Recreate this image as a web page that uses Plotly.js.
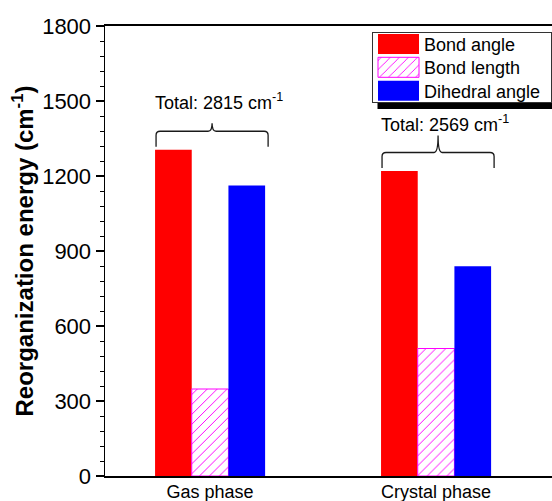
<!DOCTYPE html>
<html><head><meta charset="utf-8">
<script src="https://cdn.plot.ly/plotly-3.0.1.min.js"></script>
<style>html,body{margin:0;padding:0;background:#fff}#chart{width:552px;height:501px}</style>
</head><body><div id="chart"></div>
<script>
// ---- data ----
const categories = ['Gas phase', 'Crystal phase'];
const seriesNames = ['Bond angle', 'Bond length', 'Dihedral angle'];
const bondAngle = [1305, 1220];
const bondLength = [348, 510];
const dihedralAngle = [1162, 839];
const totals = [2815, 2569];
const yTickValues = [0, 300, 600, 900, 1200, 1500, 1800];

// ---- layout helpers ----
const FONT = 'Arial, "Liberation Sans", sans-serif';
const xIdx = categories.map((c, i) => i);
const M = {l: 105, r: 0, t: 26, b: 25};
const W = 552, H = 501;
const plotW = W - M.l - M.r, plotH = H - M.t - M.b;
const xRange = [-0.465, 1.513];
const yRange = [0, 1800];
const pxX = (xRange[1] - xRange[0]) / plotW;
const pxY = (yRange[1] - yRange[0]) / plotH;
const bargap = 0.513;
const groupW = 1 - bargap;
const braceCusp = [8, 17];
const MAG = '#FF00FF';

const traces = [
  {type: 'bar', name: seriesNames[0], x: xIdx, y: bondAngle,
   marker: {color: '#FF0000', line: {width: 0}}},
  {type: 'bar', name: seriesNames[1], x: xIdx, y: bondLength,
   marker: {color: '#FFFFFF', line: {color: MAG, width: 1},
            pattern: {shape: '/', fillmode: 'overlay', fgcolor: MAG, bgcolor: '#FFFFFF', fgopacity: 1,
                      size: xIdx.map(() => 7), solidity: 0.14}}},
  {type: 'bar', name: seriesNames[2], x: xIdx, y: dihedralAngle,
   marker: {color: '#0000FF', line: {width: 0}}}
];

const shapes = [];
const annotations = [];
xIdx.forEach(i => {
  const top = Math.max(bondAngle[i], bondLength[i], dihedralAngle[i]);
  const x0 = i - groupW / 2 + 1 * pxX, x1 = i + groupW / 2 + 3 * pxX, xc = (x0 + x1) / 2;
  const yH = top + 18.5 * pxY, yE = top + 3 * pxY, yC = yH + braceCusp[i] * pxY;
  const rx = 4 * pxX, ry = 4 * pxY;
  const path = `M${x0},${yE} L${x0},${yH - ry} Q${x0},${yH} ${x0 + rx},${yH} L${xc - rx},${yH} ` +
    `Q${xc},${yH} ${xc},${yC} Q${xc},${yH} ${xc + rx},${yH} L${x1 - rx},${yH} ` +
    `Q${x1},${yH} ${x1},${yH - ry} L${x1},${yE}`;
  shapes.push({type: 'path', xref: 'x', yref: 'y', path: path, line: {color: '#1a1a1a', width: 1.3}, layer: 'above'});
  annotations.push({xref: 'x', yref: 'y', x: x0 - 3 * pxX, y: top + 48 * pxY, xanchor: 'left', yanchor: 'middle',
    text: 'Total: ' + totals[i] + ' cm<sup>-1</sup>', showarrow: false, font: {family: FONT, size: 18, color: '#000'}});
});

const layout = {
  width: W, height: H, margin: M, paper_bgcolor: '#fff', plot_bgcolor: '#fff',
  font: {family: FONT, color: '#000'},
  barmode: 'group', bargap: bargap, bargroupgap: 0,
  showlegend: true,
  legend: {x: (372 - M.l) / plotW, y: (H - M.b - 32) / plotH, xanchor: 'left', yanchor: 'top',
    bgcolor: '#fff', bordercolor: '#333', borderwidth: 1, font: {family: FONT, size: 18, color: '#000'},
    itemwidth: 41, tracegroupgap: 0, traceorder: 'normal'},
  xaxis: {type: 'linear', range: xRange, tickvals: xIdx, ticktext: categories, ticks: '',
    showline: true, linewidth: 2, linecolor: '#000', mirror: true, showgrid: false, zeroline: false,
    tickfont: {family: FONT, size: 18, color: '#000'}, ticklabelstandoff: -2, fixedrange: true},
  yaxis: {range: yRange, tickvals: yTickValues, ticktext: yTickValues.map(String), ticks: 'outside',
    ticklen: 8, tickwidth: 1.5, tickcolor: '#000', showline: true, linewidth: 1.5, linecolor: '#000',
    showgrid: false, zeroline: false, tickfont: {family: FONT, size: 22, color: '#000'},
    minor: {tick0: 0, dtick: 60, ticks: 'outside', ticklen: 4, tickwidth: 1, tickcolor: '#000', showgrid: false},
    title: {text: 'Reorganization energy (cm<sup>-1</sup>)', font: {family: FONT, size: 24, color: '#000', weight: 'bold'}, standoff: 1},
    automargin: false, fixedrange: true},
  shapes: shapes, annotations: annotations
};

const SVGNS = 'http://www.w3.org/2000/svg';
const LEG_W = 179, LEG_H = 70;

function fixPatterns() {
  document.querySelectorAll('pattern').forEach(p => {
    p.querySelectorAll('path').forEach(q => { q.setAttribute('stroke', MAG); q.style.stroke = MAG; });
    p.querySelectorAll('rect').forEach(r => { r.setAttribute('fill', '#FFFFFF'); r.style.fill = '#FFFFFF'; });
  });
}

function fixRows(leg) {
  const rowCenters = [12, 35.3, 58.7];
  leg.querySelectorAll('g.traces').forEach((g, k) => {
    const m = /translate\(\s*([-\d.]+)[ ,]+([-\d.]+)/.exec(g.getAttribute('transform') || '');
    const tx = m ? parseFloat(m[1]) : 0;
    g.setAttribute('transform', `translate(${tx},${rowCenters[k]})`);
    g.querySelectorAll('g.legendpoints path').forEach(p => p.setAttribute('d', 'M20.5,10H-20.5V-10H20.5Z'));
  });
  const bg = leg.querySelector('rect.bg');
  if (bg) { bg.setAttribute('height', LEG_H); bg.setAttribute('width', LEG_W); }
}

function drawShadow(leg) {
  const m = /translate\(\s*([-\d.]+)[ ,]+([-\d.]+)/.exec(leg.getAttribute('transform') || '');
  if (!m) return;
  const lx = parseFloat(m[1]), ly = parseFloat(m[2]);
  const host = leg.ownerSVGElement || document.querySelector('svg.main-svg');
  let sg = host.querySelector('g.legshadow');
  if (!sg) { sg = document.createElementNS(SVGNS, 'g'); sg.setAttribute('class', 'legshadow'); host.appendChild(sg); }
  while (sg.firstChild) sg.removeChild(sg.firstChild);
  [[lx + 5.5, ly + LEG_H + 1, LEG_W, 6], [lx + LEG_W + 1, ly + 6, 6, LEG_H + 1]].forEach(r => {
    const e = document.createElementNS(SVGNS, 'rect');
    e.setAttribute('x', r[0]); e.setAttribute('y', r[1]); e.setAttribute('width', r[2]); e.setAttribute('height', r[3]);
    e.setAttribute('style', 'fill: rgb(0,0,0); fill-opacity: 1; stroke: none;');
    sg.appendChild(e);
  });
}

function fixAll() {
  const leg = document.querySelector('g.legend');
  if (!leg) return;
  try { fixRows(leg); } catch (e) {}
  try { drawShadow(leg); } catch (e) {}
  try { fixPatterns(); } catch (e) {}
}

const gdiv = document.getElementById('chart');
Plotly.newPlot(gdiv, traces, layout, {staticPlot: true, displayModeBar: false}).then(gd => {
  fixAll();
  gd.on('plotly_afterplot', fixAll);
  setTimeout(fixAll, 50);
  setTimeout(fixAll, 300);
});
</script></body></html>
